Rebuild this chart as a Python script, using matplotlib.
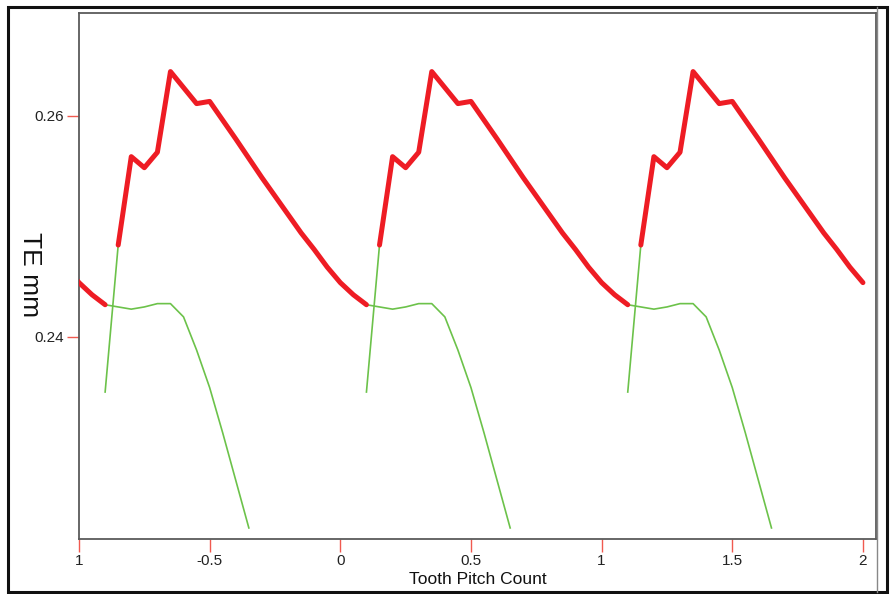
import numpy as np
import matplotlib.pyplot as plt
from matplotlib.patches import Rectangle
from matplotlib.lines import Line2D

plt.rcParams['font.family'] = ['Liberation Sans', 'DejaVu Sans']

# one tooth pitch (x in pitch count, y in mm)
red_x = [-0.85, -0.80, -0.75, -0.70, -0.65, -0.55, -0.50, -0.40, -0.30,
         -0.15, -0.10, -0.05, 0.00, 0.05, 0.10]
red_y = [0.2483, 0.2563, 0.2553, 0.2567, 0.2640, 0.2611, 0.2613, 0.2579, 0.2544,
         0.2494, 0.2479, 0.2463, 0.2449, 0.2438, 0.2429]

green_x = [-0.90, -0.80, -0.75, -0.70, -0.65, -0.60, -0.55, -0.50, -0.45, -0.40, -0.35]
green_y = [0.2429, 0.2425, 0.2427, 0.2430, 0.2430, 0.2418, 0.2388, 0.2354, 0.2313, 0.2270, 0.2227]

steep_x = [-0.90, -0.85]
steep_y = [0.2350, 0.2483]

pitches = [-1, 0, 1, 2]
x_ticks = [-1, -0.5, 0, 0.5, 1, 1.5, 2]
x_tick_labels = ['1', '-0.5', '0', '0.5', '1', '1.5', '2']
y_ticks = [0.24, 0.26]
y_tick_labels = ['0.24', '0.26']

RED = '#EE1C24'
GREEN = '#6CC24A'
TICK = '#F05A50'
SPINE = '#5a5a5a'

fig = plt.figure(figsize=(8.92, 5.94), dpi=100)
ax = fig.add_axes([79 / 892, 1 - 539 / 594, (876 - 79) / 892, (539 - 13) / 594])

for k in pitches:
    rx = np.array(red_x) + k
    ry = np.array(red_y)
    keep = rx <= 2.0001
    ax.plot(rx[keep], ry[keep], color=RED, lw=3.6, solid_capstyle='round',
            solid_joinstyle='round', zorder=3)
    ax.plot(np.array(green_x) + k, green_y, color=GREEN, lw=1.2, zorder=2)
    ax.plot(np.array(steep_x) + k, steep_y, color=GREEN, lw=1.2, zorder=2)

ax.set_xlim(-1, 2.05)
ax.set_ylim(0.2217, 0.2693)
ax.set_xticks(x_ticks)
ax.set_xticklabels(x_tick_labels)
ax.set_yticks(y_ticks)
ax.set_yticklabels(y_tick_labels)
ax.tick_params(direction='out', length=9, width=1.0, color=TICK, labelcolor='#222222',
               labelsize=11, pad=2)
for s in ax.spines.values():
    s.set_color(SPINE)
    s.set_linewidth(1.3)

fig.text(30 / 892, 1 - 275 / 594, 'TE mm', rotation=-90, fontsize=19, color='#111111',
         ha='center', va='center')
fig.text(478 / 892, 1 - 580 / 594, 'Tooth Pitch Count', fontsize=12.5, color='#111111',
         ha='center', va='center')

# outer frame
fig.add_artist(Rectangle((8 / 892, 1 - 592 / 594), (887 - 8) / 892, (592 - 7) / 594,
                         transform=fig.transFigure, fill=False, ec='#111111', lw=2.2))
fig.add_artist(Line2D([877 / 892, 877 / 892], [1 - 592 / 594, 1 - 7 / 594],
                      transform=fig.transFigure, color='#888888', lw=1.0))

fig.savefig('out.png', dpi=100)
